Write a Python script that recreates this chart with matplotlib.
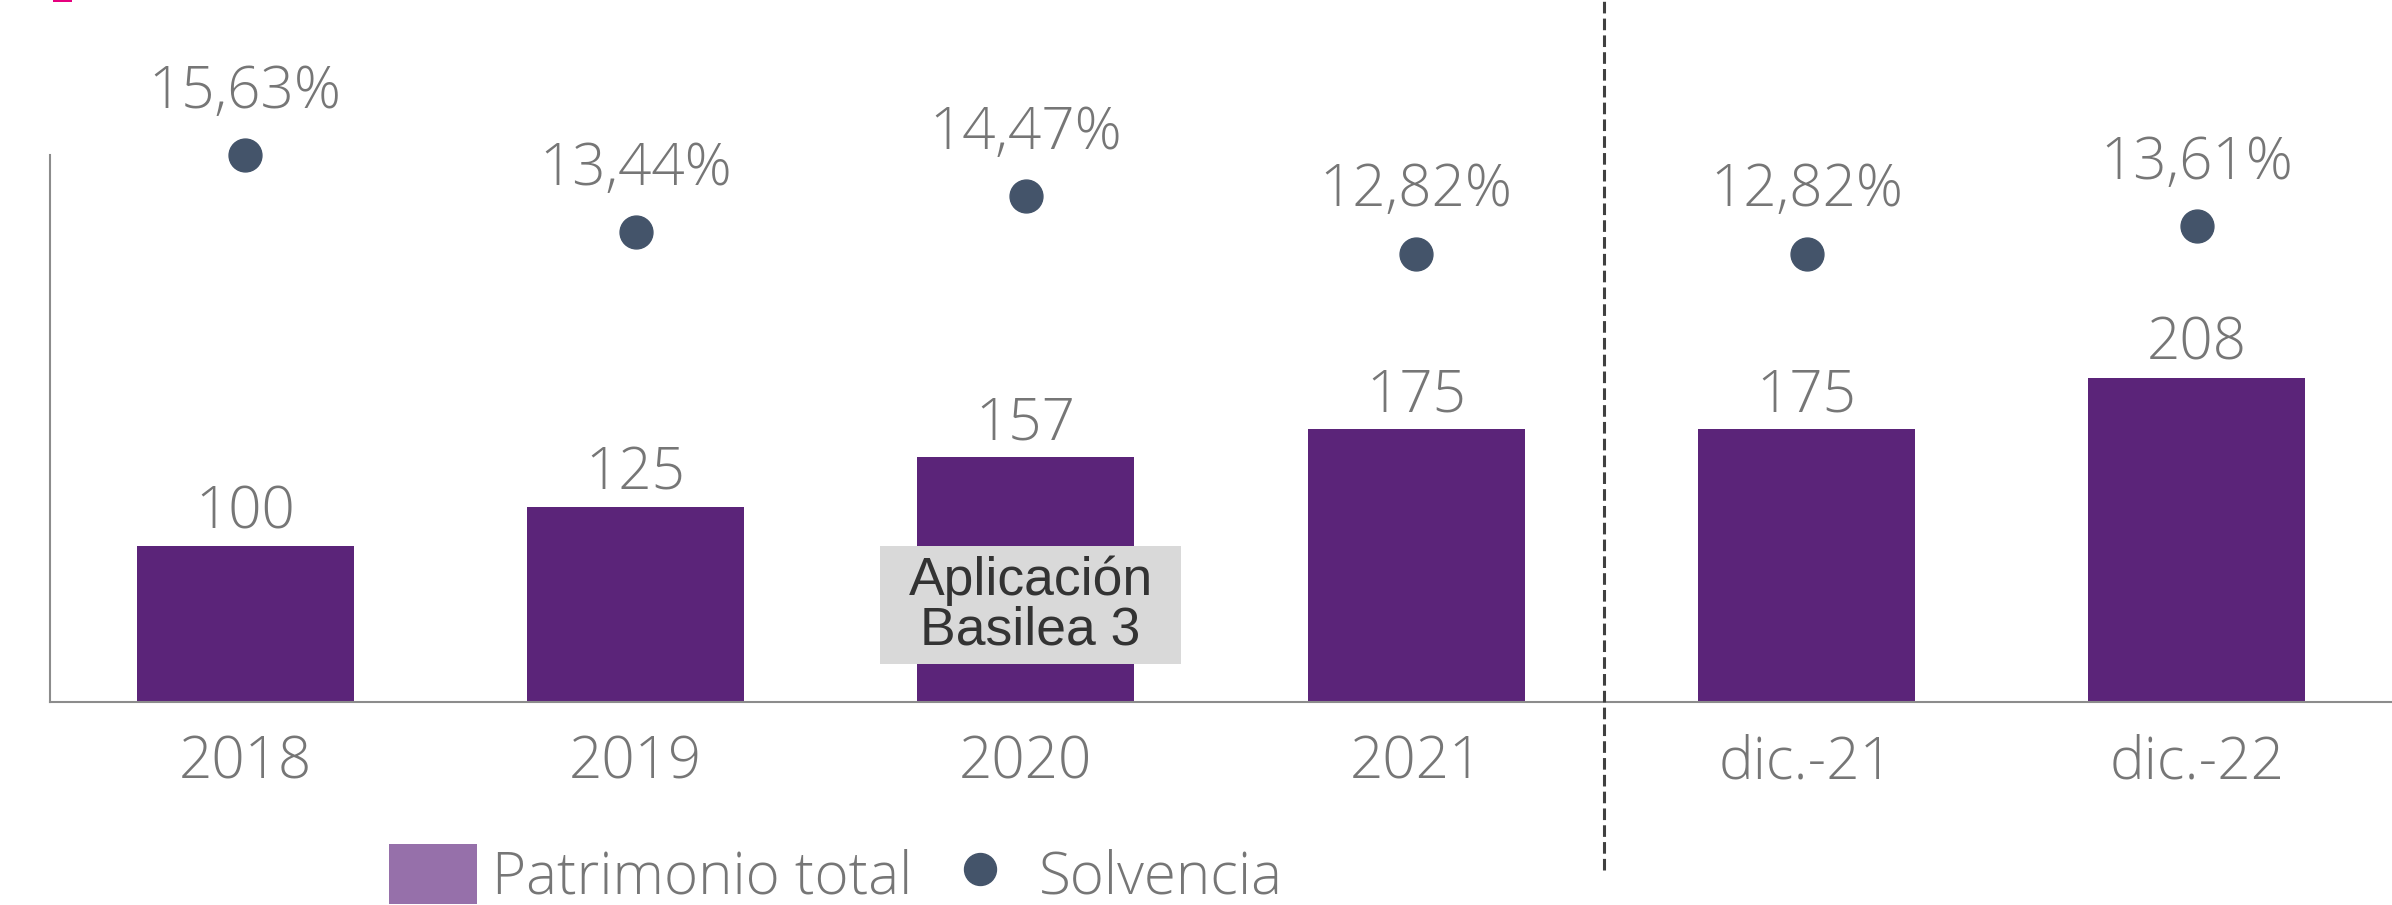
import matplotlib.pyplot as plt
from matplotlib.patches import Rectangle, Patch
from matplotlib.lines import Line2D

plt.rcParams['font.family'] = ['Open Sans', 'DejaVu Sans']
plt.rcParams['font.weight'] = 'light'

# Data
categories = ['2018', '2019', '2020', '2021', 'dic.-21', 'dic.-22']
patrimonio = [100, 125, 157, 175, 175, 208]
solvencia = [15.63, 13.44, 14.47, 12.82, 12.82, 13.61]
solvencia_labels = ['15,63%', '13,44%', '14,47%', '12,82%', '12,82%', '13,61%']

W, H = 2392, 905
bar_color = '#5B2479'
dot_color = '#44546A'
text_gray = '#767676'
axis_gray = '#8C8C8C'
fs = 42

fig = plt.figure(figsize=(W / 100, H / 100), dpi=100)
ax = fig.add_axes([50 / W, (H - 702) / H, 1 - 50 / W, 547 / H])
x = list(range(len(categories)))

ax.bar(x, patrimonio, width=0.556, color=bar_color, zorder=2)
ax.set_xlim(-0.5, 5.5)
ax.set_ylim(0, 351)
for xi, v in zip(x, patrimonio):
    ax.annotate(str(v), (xi, v), xytext=(0, 13), textcoords='offset points',
                ha='center', va='baseline', fontsize=fs, color=text_gray)

ax.set_xticks(x, categories)
ax.tick_params(axis='x', length=0, pad=23, labelsize=fs, labelcolor=text_gray)
ax.set_yticks([])
for s in ['top', 'right']:
    ax.spines[s].set_visible(False)
for s in ['left', 'bottom']:
    ax.spines[s].set_color(axis_gray)
    ax.spines[s].set_linewidth(1.5)

# solvency on a second scale
ax2 = ax.twinx()
ax2.set_ylim(0, 15.64)
ax2.scatter(x, solvencia, s=560, color=dot_color, clip_on=False, zorder=3)
for xi, v, lab in zip(x, solvencia, solvencia_labels):
    ax2.annotate(lab, (xi, v), xytext=(0, 34), textcoords='offset points',
                 ha='center', va='baseline', fontsize=fs, color=text_gray,
                 annotation_clip=False)
ax2.set_yticks([])
for s in ax2.spines.values():
    s.set_visible(False)

# separator between annual and monthly figures
ax.plot([3.48, 3.48], [-0.307, 1.283], transform=ax.get_xaxis_transform(),
        clip_on=False, color='#404040', lw=2.2, dashes=(3.8, 1.7), zorder=4)

# Basilea 3 note
ax.add_patch(Rectangle((2 - 0.374, 24.4), 0.772, 75.7, facecolor='#D9D9D9',
                       edgecolor='none', zorder=3))
ax.text(2.012, 62, 'Aplicación\nBasilea 3', ha='center', va='center',
        fontsize=38.5, family='Liberation Sans', fontweight='normal',
        color='#333333', linespacing=1.0, zorder=4)

# small pink mark at the top
fig.add_artist(Rectangle((53 / W, 1 - 2 / H), 19 / W, 2 / H,
                         transform=fig.transFigure, facecolor='#E6007E',
                         edgecolor='none'))

handles = [Patch(facecolor='#9670AA', label='Patrimonio total'),
           Line2D([], [], marker='o', ls='none', markersize=23,
                  color=dot_color, label='Solvencia')]
leg = fig.legend(handles=handles, loc='center left',
                 bbox_to_anchor=(389 / W, 29 / H), ncol=2, frameon=False,
                 borderpad=0, borderaxespad=0, handlelength=1.5,
                 handleheight=1.2, handletextpad=0.26, columnspacing=0.42,
                 prop={'size': fs})
for t in leg.get_texts():
    t.set_color(text_gray)

fig.savefig('out.png', dpi=100)
